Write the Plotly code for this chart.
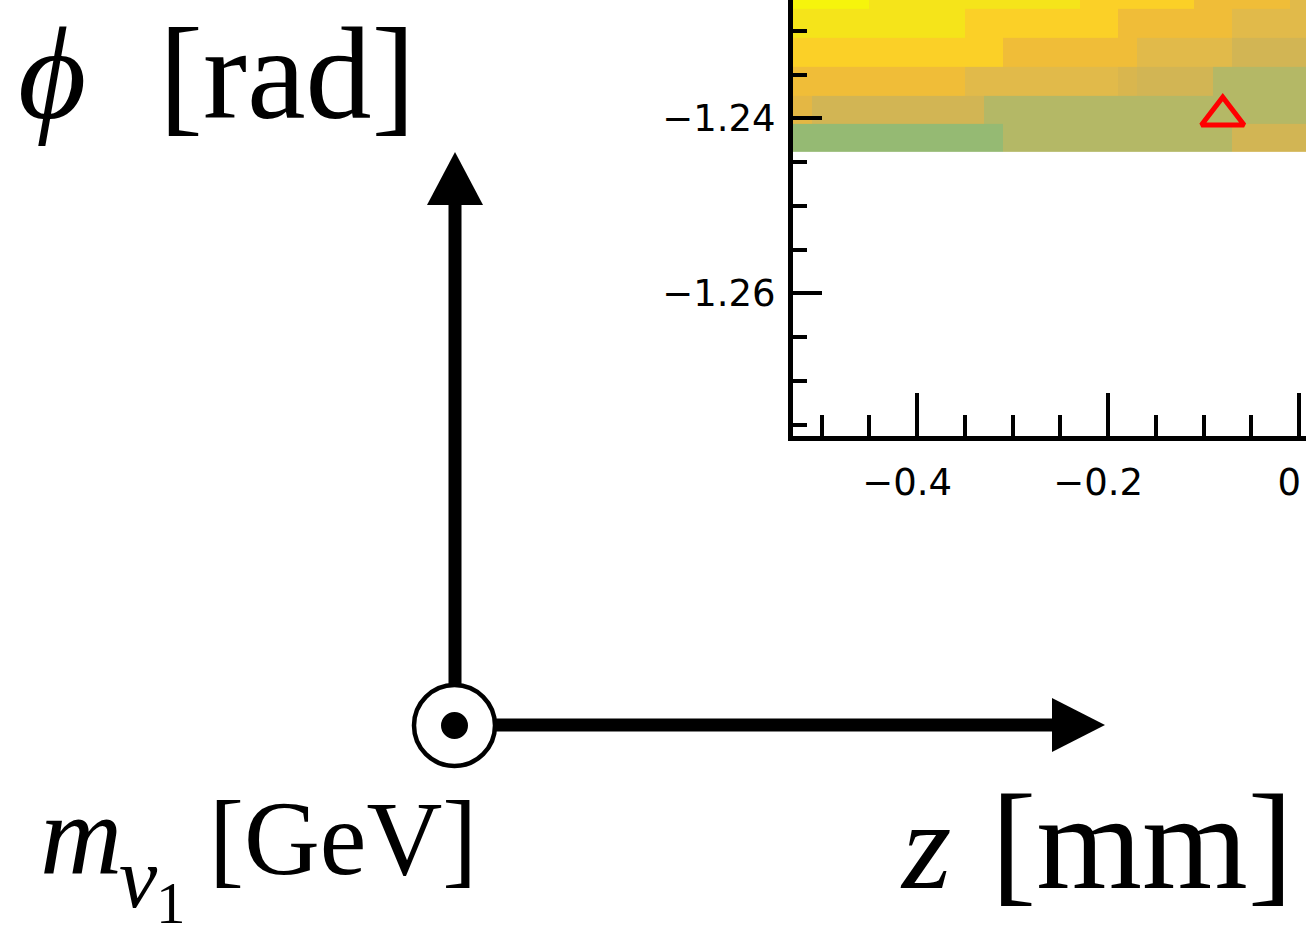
import plotly.graph_objects as go

# ---------------- data ----------------
# bin edges of the 2D histogram (z [mm] and phi [rad])
z_edges = [-0.53, -0.51, -0.49, -0.47, -0.45, -0.43, -0.41, -0.39, -0.37, -0.35,
           -0.33, -0.31, -0.29, -0.27, -0.25, -0.23, -0.21, -0.19, -0.17, -0.15,
           -0.13, -0.11, -0.09, -0.07, -0.05, -0.03, -0.01, 0.01]
phi_edges = [-1.24382, -1.24065, -1.23742, -1.23410, -1.23079, -1.22754, -1.22429]

# colour level of each cell, rows from bottom (low phi) to top
row_580 = [2, 2, 2, 2, 2, 2, 2, 2, 2, 2, 2, 3, 3, 3, 3, 3, 3, 3, 3, 3, 3, 3, 3, 4, 4, 4, 4]
row_581 = [5.5, 4, 4, 4, 4, 4, 4, 4, 4, 4, 3, 3, 3, 3, 3, 3, 3, 3, 3, 3, 3, 3, 3, 3, 3, 3, 3]
row_582 = [6, 6, 6, 6, 6, 6, 6, 6, 6, 5, 5, 5, 5, 5, 5, 5, 5, 4.5, 4, 4, 4, 4, 3, 3, 3, 3, 3]
row_583 = [7, 7, 7, 7, 7, 7, 7, 7, 7, 7, 7, 6, 6, 6, 6, 6, 6, 6, 5, 5, 5, 5, 5, 4, 4, 4, 4]
row_584 = [8, 8, 8, 8, 8, 8, 8, 8, 8, 7, 7, 7, 7, 7, 7, 7, 7, 6, 6, 6, 6, 6, 6, 5, 5, 5, 5]
row_585 = [9, 9, 9, 9, 8, 8, 8, 8, 8, 8, 8, 8, 8, 8, 8, 7, 7, 7, 7, 7, 7, 6, 6, 6, 6, 6, 5]

# marked point (red open triangle)
point_z = [-0.08]
point_phi = [-1.2397]

# axis ticks
x_tick_vals = [-0.4, -0.2, 0.0]
x_tick_text = ["\u22120.4", "\u22120.2", "0"]
y_tick_vals = [-1.26, -1.24]
y_tick_text = ["\u22121.26", "\u22121.24"]

# ---------------- styling ----------------
colorscale = [
    [0 / 7, "#95ba73"],
    [1 / 7, "#b4b866"],
    [2 / 7, "#d2b554"],
    [2.5 / 7, "#d9b64e"],
    [3 / 7, "#e1ba4a"],
    [3.5 / 7, "#e4b744"],
    [4 / 7, "#f0bd38"],
    [5 / 7, "#fbd027"],
    [6 / 7, "#f5e41a"],
    [7 / 7, "#f6f40c"],
]

W, H = 1306, 936
PL, PR, PT, PB = 793, 1306, 0, 436   # plot-area pixel box


def px(x):
    return (x - PL) / (PR - PL)


def py(y):
    return (PB - y) / (PB - PT)


fig = go.Figure()
fig.add_trace(go.Heatmap(
    x=z_edges, y=phi_edges,
    z=[row_580, row_581, row_582, row_583, row_584, row_585],
    colorscale=colorscale, zmin=2, zmax=9, showscale=False, hoverinfo="skip",
))
fig.add_trace(go.Scatter(
    x=point_z, y=point_phi, mode="markers",
    marker=dict(symbol="triangle-up-open", size=37, color="#ff0000",
                line=dict(width=5, color="#ff0000")),
    hoverinfo="skip",
))

tickfont = dict(family="DejaVu Sans", size=37, color="black")
x_per_px = 0.2 / 191.0
y_per_px = 0.02 / 175.0
fig.update_xaxes(
    range=[-0.53, -0.53 + (PR - PL) * x_per_px],
    showline=True, linewidth=5, linecolor="black", mirror=False,
    showgrid=False, zeroline=False,
    ticks="inside", ticklen=43, tickwidth=4, tickcolor="black",
    tickmode="array", tickvals=x_tick_vals, ticktext=x_tick_text,
    tickfont=tickfont, ticklabelshift=-10, ticklabelstandoff=10,
    minor=dict(ticks="inside", ticklen=21, tickwidth=4, tickcolor="black",
               tickmode="linear", tick0=0, dtick=0.05, showgrid=False),
)
fig.update_yaxes(
    range=[-1.24 - (PB - 118.3) * y_per_px, -1.24 + (118.3 - PT) * y_per_px],
    showline=True, linewidth=5, linecolor="black", mirror=False,
    showgrid=False, zeroline=False,
    ticks="inside", ticklen=29, tickwidth=4, tickcolor="black",
    tickmode="array", tickvals=y_tick_vals, ticktext=y_tick_text,
    tickfont=tickfont, ticklabelstandoff=5,
    minor=dict(ticks="inside", ticklen=14, tickwidth=4, tickcolor="black",
               tickmode="linear", tick0=0, dtick=0.005, showgrid=False),
)

# ---------------- coordinate-system sketch ----------------
shapes = []
# vertical shaft + head
shapes.append(dict(type="rect", xref="paper", yref="paper",
                   x0=px(448.5), x1=px(461.5), y0=py(690), y1=py(203),
                   fillcolor="black", line=dict(width=0)))
shapes.append(dict(type="path", xref="paper", yref="paper",
                   path=f"M{px(427)},{py(205)} L{px(483)},{py(205)} L{px(455)},{py(152)} Z",
                   fillcolor="black", line=dict(width=0)))
# horizontal shaft + head
shapes.append(dict(type="rect", xref="paper", yref="paper",
                   x0=px(490), x1=px(1054), y0=py(731.5), y1=py(718.5),
                   fillcolor="black", line=dict(width=0)))
shapes.append(dict(type="path", xref="paper", yref="paper",
                   path=f"M{px(1052)},{py(698)} L{px(1052)},{py(752)} L{px(1105)},{py(725)} Z",
                   fillcolor="black", line=dict(width=0)))
# circle with dot (axis pointing out of the page)
cx, cy, cr, dr = 454.5, 725.5, 40.5, 13.5
shapes.append(dict(type="circle", xref="paper", yref="paper",
                   x0=px(cx - cr), x1=px(cx + cr), y0=py(cy + cr), y1=py(cy - cr),
                   fillcolor="white", line=dict(color="black", width=4.5)))
shapes.append(dict(type="circle", xref="paper", yref="paper",
                   x0=px(cx - dr), x1=px(cx + dr), y0=py(cy + dr), y1=py(cy - dr),
                   fillcolor="black", line=dict(width=0)))

annotations = []


def label(text, ink_left, baseline, size, italic, lsb=0.05):
    x_left = ink_left - lsb * size - 1
    y_bottom = baseline + 0.216 * size + 1
    annotations.append(dict(
        text=text, xref="paper", yref="paper", x=px(x_left), y=py(y_bottom),
        xanchor="left", yanchor="bottom", showarrow=False, borderpad=0,
        font=dict(family="Liberation Serif", size=size, color="black",
                  style="italic" if italic else "normal"),
    ))


label("\u03d5", 25, 118, 132, True, lsb=0.05)
label("[rad]", 171, 118, 132, False, lsb=0.088)
label("m", 42, 873, 114, True, lsb=0.02)
label("\u03bd", 121, 907, 86, True, lsb=0.02)
label("1", 163, 923, 59, False, lsb=0.111)
label("[GeV]", 218, 874, 105, False, lsb=0.088)
label("z", 900, 888, 127, True, lsb=0.0)
label("[mm]", 1003, 888, 136, False, lsb=0.088)

fig.update_layout(
    width=W, height=H,
    margin=dict(l=PL, r=W - PR, t=PT, b=H - PB, pad=0, autoexpand=False),
    paper_bgcolor="white", plot_bgcolor="white",
    showlegend=False, shapes=shapes, annotations=annotations,
)

fig.write_html("out.html")
